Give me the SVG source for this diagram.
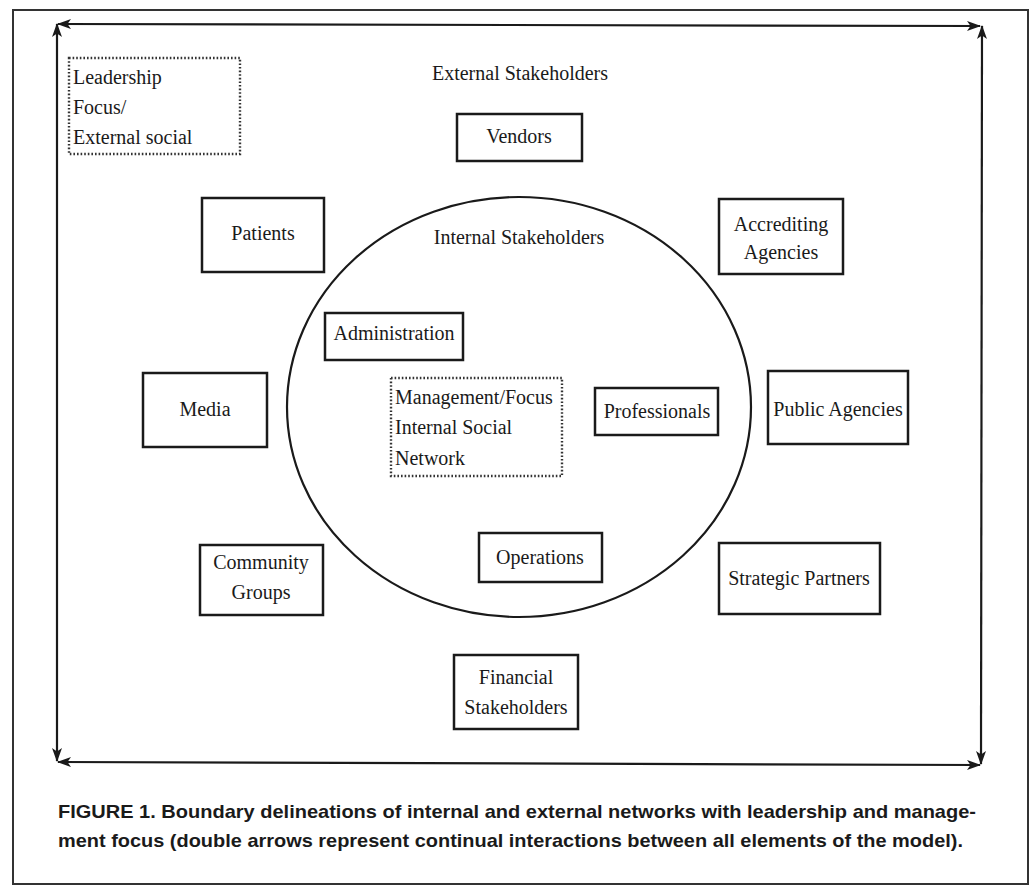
<svg xmlns="http://www.w3.org/2000/svg" width="1032" height="888" viewBox="0 0 1032 888">
<style>
.box{fill:#fff;stroke:#1a1a1a;stroke-width:2.5}
.dot{fill:none;stroke:#333;stroke-width:2.4;stroke-dasharray:1.6 2}
.t{font-family:"Liberation Serif","Times New Roman",serif;font-size:20px;fill:#1a1a1a}
.c{text-anchor:middle}
.ln{stroke:#1a1a1a;stroke-width:2.2;fill:none}
.cap{font-family:"Liberation Sans Narrow","Liberation Sans",Arial,sans-serif;font-weight:bold;font-size:19px;fill:#1a1a1a}
</style>
<defs>
<marker id="ah" viewBox="0 0 14 10" refX="13" refY="5" markerWidth="14" markerHeight="10" markerUnits="userSpaceOnUse" orient="auto-start-reverse">
<path d="M0,0 L14,5 L0,10 L3.5,5 Z" fill="#1a1a1a"/>
</marker>
</defs>
<rect width="1032" height="888" fill="#fff"/>
<rect x="13" y="10" width="1015" height="874" fill="none" stroke="#333" stroke-width="2"/>
<g id="connectors">
<line class="ln" x1="58" y1="24" x2="980" y2="26" marker-start="url(#ah)" marker-end="url(#ah)"/>
<line class="ln" x1="57" y1="24" x2="57" y2="761" marker-start="url(#ah)" marker-end="url(#ah)"/>
<line class="ln" x1="982" y1="26" x2="981" y2="764" marker-start="url(#ah)" marker-end="url(#ah)"/>
<line class="ln" x1="58" y1="762" x2="980" y2="765" marker-start="url(#ah)" marker-end="url(#ah)"/>
</g>
<g id="leadership-focus">
<rect class="dot" x="69" y="58" width="171" height="96"/>
<text class="t" x="73" y="84">Leadership</text>
<text class="t" x="73" y="114">Focus/</text>
<text class="t" x="73" y="144">External social</text>
</g>
<g id="external-label"><text class="t c" x="520" y="80">External Stakeholders</text></g>
<g id="internal-circle">
<ellipse cx="519" cy="407" rx="232" ry="210" fill="none" stroke="#1a1a1a" stroke-width="2.2"/>
<text class="t c" x="519" y="244">Internal Stakeholders</text>
</g>
<g id="vendors"><rect class="box" x="457" y="114" width="125" height="47"/><text class="t c" x="519" y="143">Vendors</text></g>
<g id="patients"><rect class="box" x="202" y="198" width="122" height="74"/><text class="t c" x="263" y="240">Patients</text></g>
<g id="accrediting"><rect class="box" x="719" y="199" width="124" height="75"/><text class="t c" x="781" y="231">Accrediting</text><text class="t c" x="781" y="259">Agencies</text></g>
<g id="media"><rect class="box" x="143" y="373" width="124" height="74"/><text class="t c" x="205" y="416">Media</text></g>
<g id="public-agencies"><rect class="box" x="768" y="371" width="140" height="73"/><text class="t c" x="838" y="416">Public Agencies</text></g>
<g id="community"><rect class="box" x="200" y="545" width="123" height="70"/><text class="t c" x="261" y="569">Community</text><text class="t c" x="261" y="599">Groups</text></g>
<g id="administration"><rect class="box" x="325" y="313" width="138" height="47"/><text class="t c" x="394" y="340">Administration</text></g>
<g id="management-focus">
<rect class="dot" x="391" y="378" width="171" height="98"/>
<text class="t" x="395" y="404">Management/Focus</text>
<text class="t" x="395" y="434">Internal Social</text>
<text class="t" x="395" y="465">Network</text>
</g>
<g id="professionals"><rect class="box" x="595" y="388" width="123" height="47"/><text class="t c" x="657" y="418">Professionals</text></g>
<g id="operations"><rect class="box" x="479" y="533" width="123" height="49"/><text class="t c" x="540" y="564">Operations</text></g>
<g id="strategic"><rect class="box" x="719" y="543" width="161" height="71"/><text class="t c" x="799" y="585">Strategic Partners</text></g>
<g id="financial"><rect class="box" x="454" y="655" width="124" height="74"/><text class="t c" x="516" y="684">Financial</text><text class="t c" x="516" y="714">Stakeholders</text></g>
<g id="caption">
<text class="cap" x="58" y="818" textLength="918" lengthAdjust="spacingAndGlyphs">FIGURE 1. Boundary delineations of internal and external networks with leadership and manage-</text>
<text class="cap" x="58" y="847" textLength="905" lengthAdjust="spacingAndGlyphs">ment focus (double arrows represent continual interactions between all elements of the model).</text>
</g>
</svg>
